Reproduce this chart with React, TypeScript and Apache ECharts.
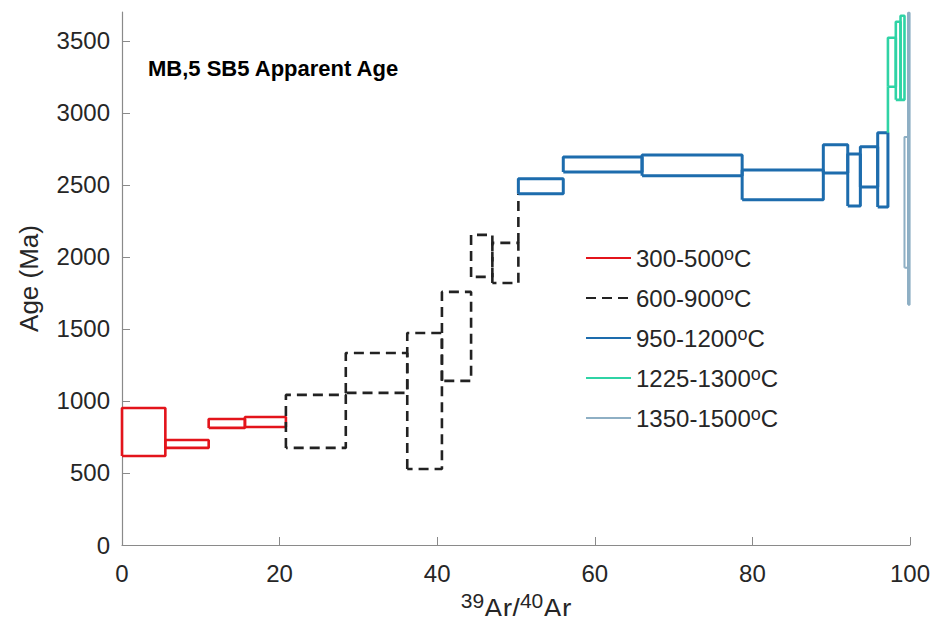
import React, { useEffect, useRef } from "react";
import * as echarts from "echarts";

// Step boundaries (cumulative 39Ar released, %) and age error envelopes (Ma)
const redX = [0, 5.5, 11.0, 15.6, 20.8];
const redLow = [618, 674, 813, 819];
const redHigh = [951, 729, 875, 889];

const blackX = [20.8, 28.4, 36.2, 40.6, 44.3, 47.0, 50.3];
const blackLow = [674, 1056, 528, 1139, 1861, 1819];
const blackHigh = [1042, 1333, 1472, 1757, 2153, 2097];

const blueX = [50.3, 56.0, 66.0, 78.7, 89.0, 92.1, 93.7, 95.9, 97.2];
const blueLow = [2438, 2590, 2563, 2396, 2583, 2354, 2486, 2347];
const blueHigh = [2542, 2694, 2708, 2604, 2778, 2715, 2764, 2861];

const greenX = [97.2, 98.2, 98.8, 99.3];
const greenLow = [3181, 3090, 3090];
const greenHigh = [3521, 3632, 3674];

const lightX = [99.3, 99.75, 99.95];
const lightLow = [1924, 1667];
const lightHigh = [2833, 3694];

// connector segments between groups: [x, yFrom, yTo]
const blackConnector = [50.3, 2097, 2438];
const greenConnector = [97.2, 2861, 3181];

const groupNames = ["300-500", "600-900", "950-1200", "1225-1300", "1350-1500"];
const xTicks = [0, 20, 40, 60, 80, 100];
const yTicks = [0, 500, 1000, 1500, 2000, 2500, 3000, 3500];

export default function App() {
  const ref = useRef<HTMLDivElement>(null);
  useEffect(() => {
    if (!ref.current) return;
    const chart = echarts.init(ref.current, null, { renderer: "svg" });

    const groups = [
      { name: groupNames[0], x: redX, lo: redLow, hi: redHigh, color: "#e3141b", width: 2.6, type: "solid" as any, conn: null as any },
      { name: groupNames[1], x: blackX, lo: blackLow, hi: blackHigh, color: "#222222", width: 2.6, type: [10, 6] as any, conn: blackConnector },
      { name: groupNames[2], x: blueX, lo: blueLow, hi: blueHigh, color: "#1d6cad", width: 3, type: "solid" as any, conn: null },
      { name: groupNames[3], x: greenX, lo: greenLow, hi: greenHigh, color: "#2fd3a5", width: 2.6, type: "solid" as any, conn: greenConnector },
      { name: groupNames[4], x: lightX, lo: lightLow, hi: lightHigh, color: "#8eafc4", width: 2, type: "solid" as any, conn: null },
    ];

    const series: any[] = [];
    groups.forEach((g) => {
      for (let i = 0; i < g.lo.length; i++) {
        const x0 = g.x[i];
        const x1 = g.x[i + 1];
        series.push({
          type: "line",
          name: g.name,
          symbol: "none",
          data: [
            [x0, g.lo[i]],
            [x0, g.hi[i]],
            [x1, g.hi[i]],
            [x1, g.lo[i]],
            [x0, g.lo[i]],
          ],
          lineStyle: { color: g.color, width: g.width, type: g.type },
          itemStyle: { color: g.color },
          silent: true,
        });
      }
      if (g.conn) {
        series.push({
          type: "line",
          name: g.name,
          symbol: "none",
          data: [
            [g.conn[0], g.conn[1]],
            [g.conn[0], g.conn[2]],
          ],
          lineStyle: { color: g.color, width: g.width, type: g.type },
          itemStyle: { color: g.color },
          silent: true,
        });
      }
    });

    const axisColor = "#8a8a8a";
    const labelColor = "#262626";
    const font = "'Liberation Sans', Arial, sans-serif";

    chart.setOption({
      animation: false,
      backgroundColor: "#ffffff",
      grid: { left: 122, right: 28, top: 12, bottom: 79, outerBoundsMode: "none", containLabel: false },
      xAxis: {
        type: "value",
        min: 0,
        max: 100,
        interval: 20,
        name: "{sup|39}Ar/{sup|40}Ar",
        nameLocation: "middle",
        nameGap: 45,
        nameTextStyle: {
          color: labelColor,
          fontFamily: font,
          fontSize: 28,
          rich: {
            sup: { fontSize: 21, fontFamily: font, color: labelColor, verticalAlign: "top", padding: [0, 0, 16, 0] },
          },
        },
        axisLine: { show: true, lineStyle: { color: axisColor, width: 1.2 } },
        axisTick: { show: true, inside: true, length: 8, lineStyle: { color: axisColor } },
        axisLabel: { color: labelColor, fontSize: 24, fontFamily: font, margin: 16, customValues: xTicks },
        splitLine: { show: false },
      },
      yAxis: {
        type: "value",
        min: 0,
        max: 3700,
        interval: 500,
        name: "Age (Ma)",
        nameLocation: "middle",
        nameGap: 80,
        nameTextStyle: { color: labelColor, fontFamily: font, fontSize: 26 },
        axisLine: { show: true, lineStyle: { color: axisColor, width: 1.2 } },
        axisTick: { show: true, inside: true, length: 8, lineStyle: { color: axisColor }, customValues: yTicks },
        axisLabel: {
          color: labelColor,
          fontSize: 24,
          fontFamily: font,
          margin: 12,
          customValues: yTicks,
          formatter: (v: number) => String(v),
        },
        splitLine: { show: false },
      },
      legend: {
        orient: "vertical",
        left: 580,
        top: 240,
        itemWidth: 45,
        itemHeight: 14,
        itemGap: 10,
        data: groupNames,
        selectedMode: false,
        itemStyle: { opacity: 0, color: "rgba(0,0,0,0)", borderWidth: 0 },
        formatter: (n: string) => `${n}{sup|o}C`,
        textStyle: {
          color: labelColor,
          fontFamily: font,
          fontSize: 24,
          lineHeight: 26,
          rich: {
            sup: { fontSize: 18, fontFamily: font, color: labelColor, verticalAlign: "top", lineHeight: 26, padding: [0, 0, 12, 0] },
          },
        },
      },
      graphic: [
        {
          type: "text",
          left: 148,
          top: 57,
          style: {
            text: "MB,5 SB5 Apparent Age",
            fontFamily: font,
            fontWeight: "bold",
            fontSize: 22,
            fill: "#000000",
          },
        },
      ],
      series,
    });
    return () => chart.dispose();
  }, []);
  return <div ref={ref} style={{ width: 938, height: 624, margin: -8 }} />;
}
